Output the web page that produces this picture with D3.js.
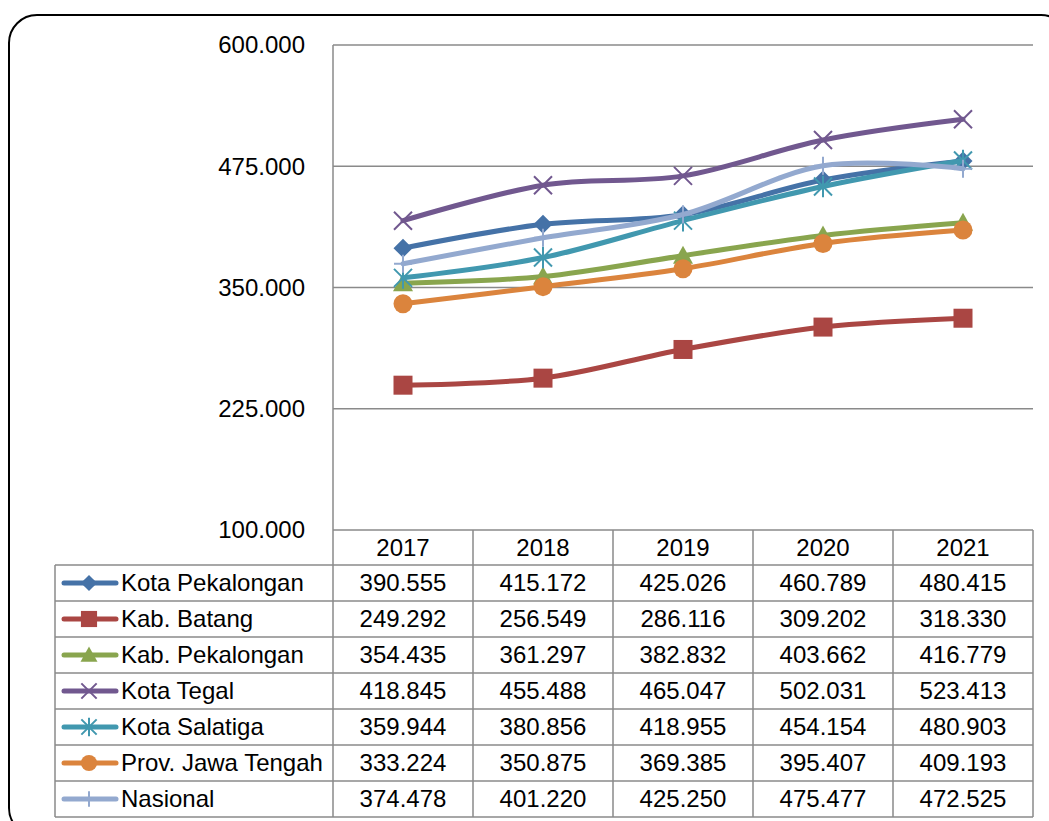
<!DOCTYPE html>
<html><head><meta charset="utf-8">
<script src="https://cdn.jsdelivr.net/npm/d3@7"></script>
<style>html,body{margin:0;padding:0;background:#fff;}svg{display:block;}</style>
</head><body>
<svg id="c" width="1049" height="821"></svg>
<script>
const years = ["2017","2018","2019","2020","2021"];
const seriesNames = ["Kota Pekalongan","Kab. Batang","Kab. Pekalongan","Kota Tegal","Kota Salatiga","Prov. Jawa Tengah","Nasional"];
const kotaPekalongan = [390.555,415.172,425.026,460.789,480.415];
const kabBatang = [249.292,256.549,286.116,309.202,318.330];
const kabPekalongan = [354.435,361.297,382.832,403.662,416.779];
const kotaTegal = [418.845,455.488,465.047,502.031,523.413];
const kotaSalatiga = [359.944,380.856,418.955,454.154,480.903];
const provJateng = [333.224,350.875,369.385,395.407,409.193];
const nasional = [374.478,401.220,425.250,475.477,472.525];
const yTicks = [100,225,350,475,600];
const colors = ["#4572A7","#AA4643","#89A54E","#71588F","#4198AF","#DB843D","#93A9CF"];
const markers = ["diamond","square","triangle","x","star","circle","plus"];
const allValues = [kotaPekalongan,kabBatang,kabPekalongan,kotaTegal,kotaSalatiga,provJateng,nasional];

const svg = d3.select("#c");
const font = "'Liberation Sans', Arial, sans-serif";
const fs = 24;
const L=333, R=1033, T=45, B=530;
const tableLeft=55, headH=35, rowH=36;

// frame
svg.append("rect").attr("x",9).attr("y",15).attr("width",1060).attr("height",821).attr("rx",28)
  .attr("fill","none").attr("stroke","#000").attr("stroke-width",2);

const x = d3.scaleBand().domain(years).range([L,R]);
const y = d3.scaleLinear().domain([100,600]).range([B,T]);
const cx = d => x(d)+x.bandwidth()/2;

// gridlines
svg.append("g").selectAll("line").data(yTicks).join("line")
  .attr("x1",L).attr("x2",R).attr("y1",d=>y(d)).attr("y2",d=>y(d))
  .attr("stroke","#8a8a8a").attr("stroke-width",1.5);
// y axis labels
svg.append("g").selectAll("text").data(yTicks).join("text")
  .attr("x",305).attr("y",d=>y(d)).attr("dy","0.35em").attr("text-anchor","end")
  .attr("font-family",font).attr("font-size",fs).attr("fill","#000")
  .text(d=>d3.format(".3f")(d));

// table
const tb = svg.append("g").attr("stroke","#8a8a8a").attr("stroke-width",1.5);
const tableBottom = B+headH+rowH*seriesNames.length;
tb.append("line").attr("x1",L).attr("x2",L).attr("y1",T).attr("y2",tableBottom);
years.forEach(yr=>{
  tb.append("line").attr("x1",x(yr)+x.bandwidth()).attr("x2",x(yr)+x.bandwidth()).attr("y1",B).attr("y2",tableBottom);
});
tb.append("line").attr("x1",tableLeft).attr("x2",tableLeft).attr("y1",B+headH).attr("y2",tableBottom);
for(let i=0;i<=seriesNames.length;i++){
  const yy = B+headH+rowH*i;
  tb.append("line").attr("x1",tableLeft).attr("x2",R).attr("y1",yy).attr("y2",yy);
}
svg.append("g").selectAll("text").data(years).join("text")
  .attr("x",d=>cx(d)).attr("y",B+headH/2).attr("dy","0.35em").attr("text-anchor","middle")
  .attr("font-family",font).attr("font-size",fs).text(d=>d);

function drawMarker(g, type, color, px, py, s){
  const sw = 2;
  if(type==="diamond"){
    g.append("path").attr("d",`M${px},${py-s}L${px+s},${py}L${px},${py+s}L${px-s},${py}Z`).attr("fill",color);
  } else if(type==="square"){
    g.append("rect").attr("x",px-s).attr("y",py-s).attr("width",2*s).attr("height",2*s).attr("fill",color);
  } else if(type==="triangle"){
    g.append("path").attr("d",`M${px},${py-s}L${px+s},${py+s*0.8}L${px-s},${py+s*0.8}Z`).attr("fill",color);
  } else if(type==="circle"){
    g.append("circle").attr("cx",px).attr("cy",py).attr("r",s).attr("fill",color);
  } else if(type==="x"){
    g.append("path").attr("d",`M${px-s},${py-s}L${px+s},${py+s}M${px-s},${py+s}L${px+s},${py-s}`).attr("stroke",color).attr("stroke-width",sw).attr("fill","none");
  } else if(type==="star"){
    g.append("path").attr("d",`M${px-s},${py-s}L${px+s},${py+s}M${px-s},${py+s}L${px+s},${py-s}M${px},${py-s*1.2}L${px},${py+s*1.2}`).attr("stroke",color).attr("stroke-width",sw).attr("fill","none");
  } else if(type==="plus"){
    g.append("path").attr("d",`M${px-s},${py}L${px+s},${py}M${px},${py-s}L${px},${py+s}`).attr("stroke",color).attr("stroke-width",sw).attr("fill","none");
  }
}
const mSize = {diamond:9.5,square:9.5,triangle:10,circle:9.5,x:9,star:9,plus:9};

const line = d3.line().x(d=>cx(d.year)).y(d=>y(d.v)).curve(d3.curveCatmullRom.alpha(0));
const plot = svg.append("g");
allValues.forEach((vals,i)=>{
  const data = years.map((yr,j)=>({year:yr,v:vals[j]}));
  const g = plot.append("g");
  g.append("path").datum(data).attr("d",line).attr("fill","none").attr("stroke",colors[i])
    .attr("stroke-width",5).attr("stroke-linecap","round").attr("stroke-linejoin","round");
  data.forEach(d=>drawMarker(g, markers[i], colors[i], cx(d.year), y(d.v), mSize[markers[i]]));
});

const fmt = d3.format(".3f");
seriesNames.forEach((name,i)=>{
  const ry = B+headH+rowH*i+rowH/2;
  const g = svg.append("g");
  g.append("line").attr("x1",64).attr("x2",116).attr("y1",ry).attr("y2",ry)
    .attr("stroke",colors[i]).attr("stroke-width",5).attr("stroke-linecap","round");
  drawMarker(g, markers[i], colors[i], 89, ry, mSize[markers[i]]*0.85);
  g.append("text").attr("x",121).attr("y",ry).attr("dy","0.35em").attr("font-family",font).attr("font-size",fs).text(name);
  years.forEach((yr,j)=>{
    g.append("text").attr("x",cx(yr)).attr("y",ry).attr("dy","0.35em").attr("text-anchor","middle")
      .attr("font-family",font).attr("font-size",fs).text(fmt(allValues[i][j]));
  });
});
</script>
</body></html>
